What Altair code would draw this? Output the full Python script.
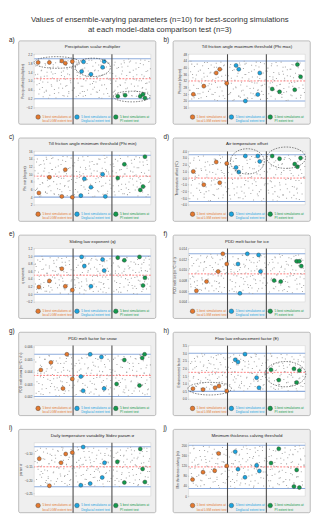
import altair as alt
import pandas as pd

FONT = "Liberation Sans"
ORANGE, BLUE, GREEN = "#e4792f", "#1ba4df", "#13994b"

SUPTITLE = ["Values of ensemble-varying parameters (n=10) for best-scoring simulations",
            "at each model-data comparison test (n=3)"]
LETTERS = ["a)", "b)", "c)", "d)", "e)", "f)", "g)", "h)", "i)", "j)"]
PANEL_TITLES = [
    "Precipitation scalar multiplier",
    "Till friction angle maximum threshold (Phi max)",
    "Till friction angle minimum threshold (Phi min)",
    "Air temperature offset",
    "Sliding law exponent (q)",
    "PDD melt factor for ice",
    "PDD melt factor for snow",
    "Flow law enhancement factor (E)",
    "Daily temperature variability Stdev param σ",
    "Minimum thickness calving threshold",
]
Y_TITLES = [
    "Precip offset (multiplier)", "Phi max (degree)", "Phi min (degree)",
    "Temperature offset (°C)", "q exponent", "PDD melt ice (m °C⁻¹ d⁻¹)",
    "PDD melt snow (m °C⁻¹ d⁻¹)", "Enhancement factor", "param σ",
    "Min thickness calving (m)",
]
Y_DOMAINS = [[-0.2, 2.2], [16, 48], [2, 16], [-4, 4], [-0.2, 1.2],
             [0.004, 0.014], [0.0018, 0.0061], [0, 3.5], [-0.26, -0.06], [0, 210]]
Y_TICKS = [
    [-0.2, 0.2, 0.6, 1.0, 1.4, 1.8, 2.2],
    [16, 20, 24, 28, 32, 36, 40, 44, 48],
    [2, 4, 6, 8, 10, 12, 14, 16],
    [-4, -3, -2, -1, 0, 1, 2, 3, 4],
    [-0.2, 0.0, 0.2, 0.4, 0.6, 0.8, 1.0, 1.2],
    [0.004, 0.006, 0.008, 0.010, 0.012, 0.014],
    [0.002, 0.003, 0.004, 0.005, 0.006],
    [0.0, 0.5, 1.0, 1.5, 2.0, 2.5, 3.0, 3.5],
    [-0.25, -0.20, -0.15, -0.10],
    [0, 40, 80, 120, 160, 200],
]
Y_FORMATS = [".1f", "d", "d", ".1f", ".1f", ".3f", ".3f", ".1f", ".2f", "d"]
BOUNDS = [[0.2, 2.0], [20, 44], [4, 15], [-3.5, 3.5], [0.0, 1.0],
          [0.0055, 0.013], [0.002, 0.0054], [0.5, 3.0], [-0.225, -0.075], [30, 200]]
DEFAULTS = [1.1, 32, 9.5, 0.0, 0.5, 0.00925, 0.0037, 1.75, -0.15, 115]

# best-5 simulations per test (x = simulation index within section, y = value)
LGM_X = [[10, 39, 71, 80, 98], [12, 39, 71, 80, 98], [12, 39, 71, 80, 98], [12, 39, 71, 80, 98],
         [12, 39, 71, 80, 98], [20, 46, 76, 88, 98], [17, 43, 74, 84, 98], [11, 37, 68, 78, 98],
         [13, 39, 69, 81, 98], [10, 37, 67, 77, 98]]
LGM_Y = [[1.83, 1.83, 1.90, 1.80, 1.87], [24, 28.9, 36.8, 39, 30.6], [5.1, 9.2, 4.2, 11.2, 4.0],
         [1.0, -1.0, 2.4, -0.7, 2.2], [0.19, 0.35, 0.67, 0.21, 0.11],
         [0.0061, 0.0078, 0.0097, 0.0130, 0.0111], [0.00414, 0.00475, 0.00265, 0.0054, 0.00342],
         [0.68, 0.62, 0.74, 0.85, 0.52], [-0.120, -0.221, -0.135, -0.102, -0.097],
         [65, 94, 100, 168, 119]]
DEG_X = [[127, 122, 146, 176, 180], [122, 129, 146, 178, 183], [120, 129, 146, 176, 183],
         [122, 129, 146, 178, 183], [122, 129, 146, 176, 180], [127, 132, 151, 180, 185],
         [120, 126, 144, 173, 180], [120, 127, 145, 175, 181], [126, 120, 144, 175, 181],
         [120, 127, 145, 175, 182]]
DEG_Y = [[1.86, 1.43, 1.30, 1.61, 1.87], [41.3, 39, 20, 23.9, 36.8], [4.4, 8.8, 6.6, 10, 4.2],
         [1.6, 0.9, 3.3, 3.3, 2.5], [0.98, 0.74, 0.21, 0.91, 0.62],
         [0.0111, 0.0056, 0.0130, 0.0128, 0.0097], [0.00361, 0.00246, 0.0054, 0.00518, 0.00265],
         [2.57, 2.43, 2.94, 1.40, 0.74], [-0.076, -0.219, -0.213, -0.190, -0.135],
         [175, 106, 74, 121, 99]]
PI_X = [[215, 234, 273, 280, 285], [215, 234, 273, 280, 288], [215, 232, 273, 280, 285],
        [215, 234, 273, 280, 288], [215, 232, 271, 285, 280], [220, 237, 278, 285, 290],
        [212, 232, 271, 278, 284], [212, 232, 271, 285, 278], [214, 232, 273, 279, 285],
        [212, 232, 271, 285, 278]]
PI_Y = [[0.31, 0.36, 0.31, 0.40, 0.23], [27.2, 25.5, 26.7, 41.8, 34.5], [9.0, 12.6, 5.9, 6.8, 14.6],
        [3.3, 2.9, 2.1, 1.7, 3.0], [0.96, 0.89, 0.98, 0.43, 0.23],
        [0.0080, 0.0078, 0.0116, 0.0116, 0.0107], [0.00301, 0.00494, 0.00289, 0.00511, 0.0054],
        [1.92, 1.24, 1.98, 1.87, 1.09], [-0.131, -0.209, -0.083, -0.158, -0.207],
        [130, 186, 38, 34, 103]]

# ensemble members (grey), position within section and fraction of parameter range
GREY_X1 = [4, 7, 9, 12, 14, 16, 19, 21, 23, 26, 28, 31, 33, 35, 38, 40, 42, 45, 47, 49, 52, 54, 56,
           59, 61, 63, 66, 68, 70, 73, 75, 77, 80, 82, 84, 87, 89, 91, 94, 96, 98, 17, 44, 65, 86]
GREY_F1 = [0.82, 0.35, 0.61, 0.12, 0.93, 0.47, 0.71, 0.28, 0.05, 0.56, 0.88, 0.19, 0.66, 0.41, 0.97,
           0.09, 0.74, 0.31, 0.52, 0.85, 0.23, 0.63, 0.02, 0.44, 0.79, 0.15, 0.91, 0.37, 0.58, 0.26,
           0.69, 0.07, 0.49, 0.83, 0.33, 0.95, 0.14, 0.60, 0.40, 0.77, 0.21, 0.54, 0.67, 0.46, 0.62]
GREY_X2 = [3, 5, 8, 11, 13, 15, 18, 20, 22, 25, 27, 30, 32, 34, 37, 39, 41, 44, 46, 48, 51, 53, 55,
           58, 60, 62, 65, 67, 69, 72, 74, 76, 79, 81, 83, 86, 88, 90, 93, 95, 97, 24, 57, 71, 92]
GREY_F2 = [0.27, 0.73, 0.05, 0.58, 0.39, 0.86, 0.14, 0.65, 0.92, 0.31, 0.48, 0.77, 0.08, 0.55,
           0.22, 0.69, 0.96, 0.36, 0.11, 0.62, 0.81, 0.43, 0.29, 0.90, 0.17, 0.53, 0.70, 0.03, 0.46,
           0.84, 0.34, 0.59, 0.12, 0.76, 0.97, 0.25, 0.51, 0.88, 0.06, 0.64, 0.38, 0.18, 0.72, 0.94, 0.49]
GREY_X3 = [2, 6, 8, 10, 13, 17, 19, 22, 24, 27, 29, 31, 34, 36, 38, 41, 43, 45, 48, 50, 52, 55, 57,
           60, 62, 64, 67, 69, 71, 74, 76, 78, 81, 83, 85, 88, 90, 92, 95, 97, 99, 15, 33, 63, 79]
GREY_F3 = [0.63, 0.18, 0.91, 0.44, 0.76, 0.03, 0.52, 0.33, 0.87, 0.69, 0.11, 0.95, 0.40, 0.25,
           0.58, 0.81, 0.15, 0.66, 0.94, 0.37, 0.07, 0.71, 0.49, 0.20, 0.89, 0.60, 0.32, 0.78, 0.13,
           0.97, 0.45, 0.26, 0.85, 0.56, 0.04, 0.68, 0.39, 0.16, 0.93, 0.53, 0.75, 0.30, 0.09, 0.47, 0.28]
GREY_X4 = [5, 9, 12, 16, 20, 24, 27, 31, 35, 38, 42, 46, 50, 53, 57, 61, 64, 68, 72, 76, 79, 83,
           87, 91, 94, 98, 11, 29, 47, 66, 84]
GREY_F4 = [0.51, 0.96, 0.24, 0.70, 0.42, 0.16, 0.84, 0.57, 0.01, 0.78, 0.35, 0.62, 0.13, 0.90,
           0.47, 0.27, 0.99, 0.66, 0.08, 0.55, 0.31, 0.74, 0.18, 0.45, 0.88, 0.60, 0.38, 0.21, 0.79,
           0.92, 0.06]
GREY_SETS = [(GREY_X1, GREY_F1), (GREY_X2, GREY_F2), (GREY_X3, GREY_F3)]

# dashed ellipses: panel, centre x, centre y, width px, height px
ELLIPSES = [(0, 58, 1.83, 47, 12), (0, 151, 1.61, 36, 19), (0, 251, 0.30, 38, 11),
            (3, 151, 2.5, 35, 26), (3, 251, 3.05, 40, 22),
            (7, 54, 0.68, 45, 13), (7, 249, 1.63, 42, 26)]

TESTS = ["lgm", "deg", "pi"]
TEST_COLORS = [ORANGE, BLUE, GREEN]
LEGEND_TEXT = ["5 best simulations at\nlocal LGM extent test",
               "5 best simulations at\nDeglacial extent test",
               "5 best simulations at\nPI extent test"]
X_TICKS = [20, 40, 60, 80, 120, 140, 160, 180, 220, 240, 260, 280]

W, H = 120, 55


def panel(k):
    xs = alt.Scale(domain=[0, 300], nice=False, zero=False)
    ys = alt.Scale(domain=Y_DOMAINS[k], nice=False, zero=False)
    ns = alt.Scale(domain=[0, 1], nice=False, zero=False)

    def X(f):
        return alt.X(f, type="quantitative", scale=xs, axis=None)

    def NY(f):
        return alt.Y(f, type="quantitative", scale=ns, axis=None)

    def Y(f):
        return alt.Y(f, type="quantitative", scale=ys, axis=None)

    box = alt.Chart(pd.DataFrame({"x": [-40], "x2": [313], "y": [-0.31], "y2": [1.25]})).mark_rect(
        fill="#efefef", stroke="#a0a0a0", strokeWidth=0.7, cornerRadius=1.5
    ).encode(x=X("x"), x2="x2", y=NY("y"), y2="y2")

    plot_bg = alt.Chart(pd.DataFrame({"x": [0], "x2": [300], "y": [0], "y2": [1]})).mark_rect(
        fill="white", stroke="#cfcfcf", strokeWidth=0.5
    ).encode(x=X("x"), x2="x2", y=NY("y"), y2="y2")

    lo, hi = BOUNDS[k]
    grey_rows = []
    for s in range(3):
        gx, gf = GREY_SETS[(k + s) % 3]
        for a, f in zip(gx, gf):
            grey_rows.append({"x": s * 100 + a, "y": lo + f * (hi - lo)})
        for a, f in zip(GREY_X4, GREY_F4):
            grey_rows.append({"x": s * 100 + (a + 37 * (k + s)) % 97 + 2, "y": lo + f * (hi - lo)})
    grey = alt.Chart(pd.DataFrame(grey_rows)).mark_point(
        filled=True, shape="square", size=1.1, color="#a8a8a8", opacity=1
    ).encode(
        x=alt.X("x:Q", scale=xs, axis=alt.Axis(
            values=X_TICKS, labelExpr="datum.value % 100", labelFontSize=2.8, labelColor="#555",
            tickSize=1.2, tickWidth=0.4, tickColor="#999", labelPadding=0.5, domain=False,
            grid=False, title=None, zindex=1, labelFlush=False, labelOverlap=False)),
        y=alt.Y("y:Q", scale=ys, axis=alt.Axis(
            values=Y_TICKS[k], format=Y_FORMATS[k], labelFontSize=3.2, labelColor="#444",
            tickSize=1.2, tickWidth=0.4, tickColor="#999", labelPadding=1, domain=False,
            grid=False, title=Y_TITLES[k], titleFontSize=3.4, titleFontWeight="normal",
            titleColor="#333", titlePadding=2, zindex=1, labelOverlap=False)),
    )

    bounds = alt.Chart(pd.DataFrame({"y": BOUNDS[k]})).mark_rule(
        color="#8eacdc", strokeWidth=1.1).encode(y=Y("y"))
    default = alt.Chart(pd.DataFrame({"y": [DEFAULTS[k]]})).mark_rule(
        color="#ff5a5a", strokeWidth=0.8, strokeDash=[2, 1.4]).encode(y=Y("y"))

    dividers = alt.Chart(pd.DataFrame({"x": [100, 200], "y": [-0.31, -0.31], "y2": [1, 1]})).mark_rule(
        color="#4a4a4a", strokeWidth=1.1).encode(x=X("x"), y=NY("y"), y2="y2")

    best_rows = []
    for t, xsv, ysv in zip(TESTS, [LGM_X[k], DEG_X[k], PI_X[k]], [LGM_Y[k], DEG_Y[k], PI_Y[k]]):
        for a, b in zip(xsv, ysv):
            best_rows.append({"x": a, "y": b, "test": t})
    best = alt.Chart(pd.DataFrame(best_rows)).mark_circle(
        size=17, stroke="#3a3a3a", strokeWidth=0.4, opacity=1
    ).encode(x=X("x"), y=Y("y"),
             color=alt.Color("test:N", scale=alt.Scale(domain=TESTS, range=TEST_COLORS), legend=None))

    layers = [box, plot_bg, bounds, default, grey, dividers, best]

    ell = [e for e in ELLIPSES if e[0] == k]
    if ell:
        erows = []
        for _, cx, cy, w, h in ell:
            r = round(h / w, 3)
            erows.append({"x": cx, "y": cy, "size": w * w,
                          "shape": f"M-1,0A1,{r},0,1,1,1,0A1,{r},0,1,1,-1,0"})
        layers.append(alt.Chart(pd.DataFrame(erows)).mark_point(
            filled=False, color="#333", strokeWidth=0.6, strokeDash=[1.6, 1.2], opacity=1
        ).encode(x=X("x"), y=Y("y"),
                 shape=alt.Shape("shape:N", scale=None),
                 size=alt.Size("size:Q", scale=None)))

    leg = pd.DataFrame({"x": [10, 110, 210], "tx": [21, 121, 221], "y": [-0.175] * 3,
                        "test": TESTS, "label": LEGEND_TEXT})
    leg_dot = alt.Chart(leg).mark_circle(size=22, stroke="#3a3a3a", strokeWidth=0.4, opacity=1).encode(
        x=X("x"), y=NY("y"),
        color=alt.Color("test:N", scale=alt.Scale(domain=TESTS, range=TEST_COLORS), legend=None))
    leg_txt = alt.Chart(leg).mark_text(
        align="left", baseline="middle", fontSize=3.3, lineBreak="\n", lineHeight=4.2, font=FONT
    ).encode(x=X("tx"), y=NY("y"), text="label:N",
             color=alt.Color("test:N", scale=alt.Scale(domain=TESTS, range=TEST_COLORS), legend=None))

    head = pd.DataFrame({"x": [150], "y": [1.13], "t": [PANEL_TITLES[k]]})
    title = alt.Chart(head).mark_text(fontSize=4.5, color="#222", font=FONT, baseline="middle").encode(
        x=X("x"), y=NY("y"), text="t:N")
    lab = pd.DataFrame({"x": [-65], "y": [1.27], "t": [LETTERS[k]]})
    letter = alt.Chart(lab).mark_text(fontSize=6.5, color="#222", font=FONT, align="left",
                                      baseline="middle").encode(x=X("x"), y=NY("y"), text="t:N")

    layers += [leg_dot, leg_txt, title, letter]
    return alt.layer(*layers).resolve_scale(y="independent").properties(width=W, height=H)


rows = []
for r in range(5):
    rows.append(alt.hconcat(panel(2 * r), panel(2 * r + 1), spacing=5))

chart = alt.vconcat(*rows, spacing=7).properties(
    title=alt.TitleParams(SUPTITLE, fontSize=8, fontWeight="normal", color="#333", font=FONT,
                          anchor="middle", offset=3),
    padding=0,
).configure_view(stroke=None).configure(font=FONT)

chart.save("out.html", embed_options={"renderer": "svg", "actions": False})
